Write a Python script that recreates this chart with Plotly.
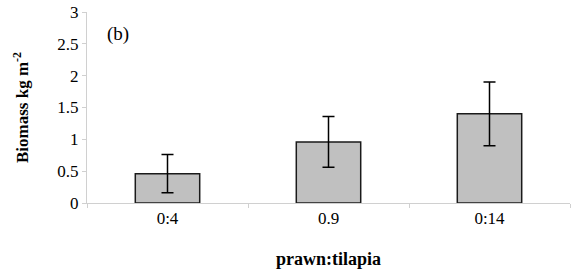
import plotly.graph_objects as go

categories = ["0:4", "0.9", "0:14"]
biomass = [0.46, 0.96, 1.40]
errors = [0.30, 0.40, 0.50]

FONT = "Liberation Serif, Times New Roman, serif"

fig = go.Figure()
fig.add_trace(go.Bar(
    x=categories, y=biomass, width=0.4,
    marker=dict(color="#c0c0c0", line=dict(color="#1a1a1a", width=1.5)),
    error_y=dict(type="data", array=errors, visible=True, color="black",
                 thickness=1.5, width=6),
))

fig.update_layout(
    width=573, height=270,
    margin=dict(l=87, r=3, t=10, b=67),
    paper_bgcolor="white", plot_bgcolor="white",
    showlegend=False,
    font=dict(family=FONT, color="black", size=17),
    annotations=[dict(text="(b)", x=(118 - 87) / (573 - 87 - 3), y=2.66,
                      xref="paper", yref="y",
                      showarrow=False, xanchor="center", yanchor="middle",
                      font=dict(family=FONT, size=19, color="black"))],
)

fig.update_yaxes(
    range=[0, 3], tickvals=[0, 0.5, 1, 1.5, 2, 2.5, 3],
    ticktext=["0", "0.5", "1", "1.5", "2", "2.5", "3"],
    showgrid=False, zeroline=False,
    showline=True, linecolor="#d0d0d0", linewidth=1,
    ticks="outside", ticklen=4, tickcolor="#d0d0d0",
    tickfont=dict(family=FONT, size=17),
    title=dict(text="<b>Biomass kg m<sup>-2</sup></b>", standoff=24,
               font=dict(family=FONT, size=17)),
)
fig.update_xaxes(
    showgrid=False, showline=True, linecolor="#d0d0d0", linewidth=1,
    ticks="outside", ticklen=4, tickcolor="#d0d0d0", tickson="boundaries",
    tickfont=dict(family=FONT, size=17),
    title=dict(text="<b>prawn:tilapia</b>", standoff=24,
               font=dict(family=FONT, size=18)),
)

fig.write_html("out.html", config={"displayModeBar": False},
               post_script="document.body.style.margin='0';")
